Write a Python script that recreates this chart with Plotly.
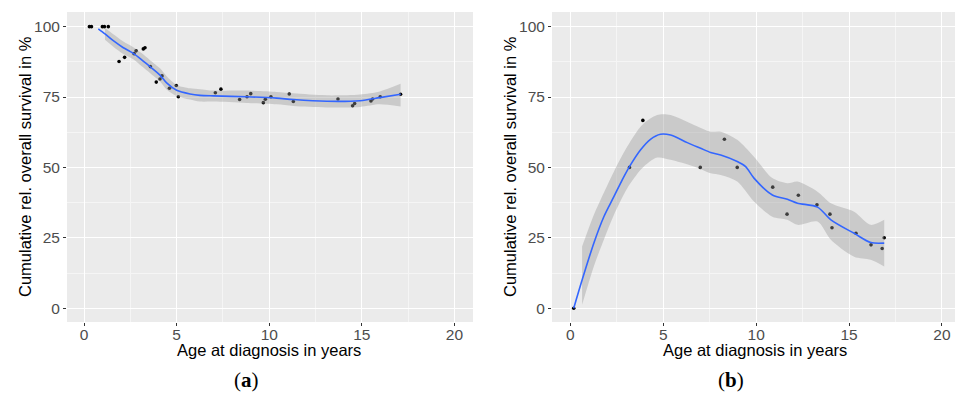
import plotly.graph_objects as go

# ---------------- Data: panel (a) ----------------
age_a = [0.29, 0.40, 0.99, 1.10, 1.31, 1.89, 2.19, 2.70, 2.81, 3.20, 3.29, 3.58, 3.90, 4.10,
         4.21, 4.61, 4.98, 5.09, 7.09, 7.39, 8.40, 8.80, 9.00, 9.68, 9.79, 10.09, 11.08, 11.30,
         13.71, 14.50, 14.61, 15.49, 15.58, 15.99, 17.09]
surv_a = [100, 100, 100, 100, 100, 87.6, 89.1, 90.4, 91.4, 92.1, 92.5, 85.8, 80.3, 81.4,
          82.5, 78.1, 79.1, 75.1, 76.5, 77.8, 74.1, 75.1, 76.2, 73.0, 74.2, 75.1, 76.1, 73.4,
          74.3, 71.9, 72.7, 73.6, 74.3, 75.1, 76.0]

fit_x_a = [0.77, 1.13, 1.58, 2.10, 2.66, 3.10, 3.56, 4.10, 4.46, 5.00, 5.72, 6.26, 6.98,
           8.78, 10.40, 11.30, 13.10, 14.90, 15.97, 17.09]
fit_a = [99.2, 97.4, 95.0, 92.6, 90.5, 88.3, 85.8, 82.8, 80.0, 77.4, 76.1, 75.6, 75.4,
         75.1, 74.6, 74.1, 73.5, 73.7, 74.8, 76.0]
band_x_a = [1.13, 1.58, 2.10, 2.66, 3.10, 3.56, 4.10, 4.46, 5.00, 5.72, 6.26, 6.98,
            8.78, 10.40, 11.30, 13.10, 14.90, 15.97, 17.09]
upper_a = [99.5, 97.3, 94.8, 92.7, 90.6, 88.1, 85.2, 82.4, 79.3, 78.1, 77.8, 77.3,
           77.3, 76.8, 76.3, 75.6, 75.9, 77.0, 79.7]
lower_a = [95.3, 92.9, 90.4, 88.4, 86.0, 83.5, 80.5, 77.7, 75.4, 74.1, 73.4, 73.4,
           72.9, 72.4, 71.8, 71.3, 71.5, 72.4, 71.6]

# ---------------- Data: panel (b) ----------------
age_b = [0.18, 3.18, 3.90, 6.99, 8.29, 8.98, 10.89, 11.66, 12.27, 13.27, 13.97, 14.08,
         15.37, 16.18, 16.78, 16.89]
surv_b = [0, 50, 66.7, 50, 60, 50, 43.0, 33.4, 40.1, 36.7, 33.4, 28.6, 26.6, 22.5, 21.2, 25.0]

fit_x_b = [0.18, 0.63, 1.26, 1.80, 2.34, 2.79, 3.18, 3.77, 4.31, 4.85, 5.39, 6.29, 7.01,
           7.55, 8.09, 8.98, 9.43, 9.88, 10.87, 11.68, 12.22, 13.30, 14.02, 15.27, 16.17, 16.89]
fit_b = [0, 10.0, 23.1, 32.5, 39.6, 45.6, 50.3, 56.2, 60.0, 61.8, 61.5, 58.8, 56.8,
         55.3, 54.4, 52.1, 50.3, 46.2, 40.2, 38.7, 37.3, 35.9, 31.4, 26.6, 23.3, 23.1]
band_x_b = [0.63, 1.26, 1.80, 2.34, 3.06, 3.86, 4.67, 5.39, 6.65, 7.55, 8.09, 8.98, 9.88,
            10.87, 11.68, 12.22, 13.30, 14.02, 15.27, 16.17, 16.89]
upper_b = [21.9, 33.1, 41.0, 48.5, 57.4, 65.1, 68.6, 68.6, 65.1, 62.7, 62.7, 59.8, 53.8,
           46.2, 44.4, 45.0, 41.4, 37.3, 34.3, 29.6, 31.4]
lower_b = [1.2, 14.8, 24.3, 33.1, 42.6, 49.7, 53.5, 52.7, 50.3, 47.9, 47.3, 45.0, 37.9,
           32.5, 31.4, 29.6, 30.8, 24.3, 18.3, 17.2, 14.8]

x_ticks = [0, 5, 10, 15, 20]
y_ticks = [0, 25, 50, 75, 100]

W, H = 955, 393
BG = "#EBEBEB"
LINE = "#3366FF"
BAND = "rgba(153,153,153,0.4)"

fig = go.Figure()


def add_panel(xs, ys, fx, fy, bx, bu, bl, xa, ya):
    fig.add_trace(go.Scatter(x=xs, y=ys, mode="markers", xaxis=xa, yaxis=ya,
                             marker=dict(color="black", size=3.6), showlegend=False,
                             hoverinfo="skip"))
    fig.add_trace(go.Scatter(x=bx, y=bl, mode="lines", xaxis=xa, yaxis=ya,
                             line=dict(width=0, shape="spline", smoothing=0.8),
                             showlegend=False, hoverinfo="skip"))
    fig.add_trace(go.Scatter(x=bx, y=bu, mode="lines", xaxis=xa, yaxis=ya,
                             line=dict(width=0, shape="spline", smoothing=0.8),
                             fill="tonexty", fillcolor=BAND,
                             showlegend=False, hoverinfo="skip"))
    fig.add_trace(go.Scatter(x=fx, y=fy, mode="lines", xaxis=xa, yaxis=ya,
                             line=dict(color=LINE, width=1.6, shape="spline", smoothing=0.8),
                             showlegend=False, hoverinfo="skip"))


add_panel(age_a, surv_a, fit_x_a, fit_a, band_x_a, upper_a, lower_a, "x", "y")
add_panel(age_b, surv_b, fit_x_b, fit_b, band_x_b, upper_b, lower_b, "x2", "y2")

ydom = [(H - 322) / H, (H - 12) / H]
axis_common = dict(showline=False, zeroline=False, gridcolor="white", gridwidth=1.1,
                   ticks="outside", ticklen=3, tickcolor="#333333", tickwidth=1,
                   tickfont=dict(family="Liberation Sans, Arial", size=15.5, color="#4D4D4D"))
minor_x = dict(dtick=2.5, tick0=0, gridcolor="#F5F5F5", gridwidth=0.6, ticks="")
minor_y = dict(dtick=12.5, tick0=0, gridcolor="#F5F5F5", gridwidth=0.6, ticks="")

fig.update_layout(
    width=W, height=H,
    margin=dict(l=0, r=0, t=0, b=0),
    paper_bgcolor="white",
    plot_bgcolor=BG,
    xaxis=dict(domain=[67 / W, 473 / W], range=[-0.92, 21.0], tickvals=x_ticks,
               minor=minor_x, anchor="y", ticklabelstandoff=-5, **axis_common),
    yaxis=dict(domain=ydom, range=[-4.9, 105.2], tickvals=y_ticks,
               minor=minor_y, anchor="x", **axis_common),
    xaxis2=dict(domain=[552 / W, 1.0], range=[-0.99, 20.7], tickvals=x_ticks,
                minor=minor_x, anchor="y2", ticklabelstandoff=-5, **axis_common),
    yaxis2=dict(domain=ydom, range=[-4.9, 105.2], tickvals=y_ticks,
                minor=minor_y, anchor="x2", **axis_common),
)

title_font = dict(family="Liberation Sans, Arial", size=16.5, color="black")
label_font = dict(family="Liberation Serif, Times New Roman", size=21, color="black")
ann = []
for xc, xt, xl, lab in [(25, 269, 246, "(<b>a</b>)"), (510, 755, 731, "(<b>b</b>)")]:
    ann.append(dict(x=xc / W, y=(H - 167) / H, xref="paper", yref="paper",
                    text="Cumulative rel. overall survival in %", textangle=-90,
                    showarrow=False, font=title_font, xanchor="center", yanchor="middle"))
    ann.append(dict(x=xt / W, y=(H - 350) / H, xref="paper", yref="paper",
                    text="Age at diagnosis in years", showarrow=False, font=title_font,
                    xanchor="center", yanchor="middle"))
    ann.append(dict(x=xl / W, y=(H - 380) / H, xref="paper", yref="paper",
                    text=lab, showarrow=False, font=label_font,
                    xanchor="center", yanchor="middle"))
fig.update_layout(annotations=ann)

fig.write_html("out.html", config={"displayModeBar": False},
               post_script="document.body.style.margin='0';document.body.style.overflow='hidden';")
